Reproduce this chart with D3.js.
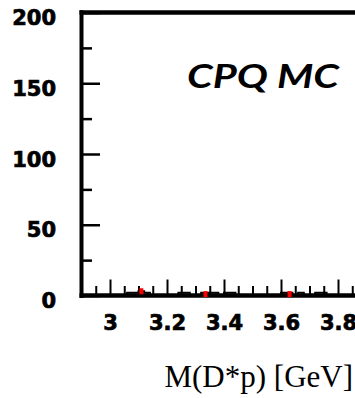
<!DOCTYPE html>
<html>
<head>
<meta charset="utf-8">
<script src="https://cdn.jsdelivr.net/npm/d3@7"></script>
<style>
  html, body { margin: 0; padding: 0; background: #fff; }
  svg { display: block; }
</style>
</head>
<body>
<script>
// ---- data ----
const binStart = 2.90;
const binWidth = 0.02;
const binCounts = [0,0,0,0,0,0,0,0,2,2,3,2,0,0,0,0,0,2,2,0,0,2,2,2,0,2,2,0,0,0,
                   0,0,0,0,0,2,2,0,2,0,0,2,2,0,0,0,0,0,0,0,0,0,0,0,0];
const pointX = [3.11, 3.335, 3.63];
const pointY = [3, 1, 1];
const yTickValues = [0, 50, 100, 150, 200];
const yMinorValues = [25, 75, 125, 175];
const xTickValues = [3.0, 3.2, 3.4, 3.6, 3.8];
const xTickLabels = ["3", "3.2", "3.4", "3.6", "3.8"];
const xMinorValues = [2.95, 3.05, 3.1, 3.15, 3.25, 3.3, 3.35, 3.45, 3.5, 3.55, 3.65, 3.7, 3.75, 3.85, 3.9, 3.95];
const xTitle = "M(D*p) [GeV]";
const label = "CPQ MC";

// ---- layout ----
const W = 355, H = 398;
const svg = d3.select("body").append("svg").attr("width", W).attr("height", H);
svg.append("rect").attr("width", W).attr("height", H).attr("fill", "#fff");

const x = d3.scaleLinear().domain([2.9, 4.0]).range([81.5, 395]);
const y = d3.scaleLinear().domain([0, 200]).range([295.5, 12.5]);

// histogram step path
const line = d3.line().curve(d3.curveStepAfter);
const pts = binCounts.map((c, i) => [x(binStart + i * binWidth), y(c)]);
pts.push([x(binStart + binCounts.length * binWidth), y(0)]);
svg.append("path").attr("d", line(pts)).attr("fill", "none")
  .attr("stroke", "#000").attr("stroke-width", 2);

// y axis ticks (inward)
const yMaj = d3.axisLeft(y).tickValues(yTickValues).tickSize(-18.5).tickPadding(25.5)
  .tickFormat(d3.format("d"));
const gy = svg.append("g").attr("transform", `translate(${x(2.9)},0)`).call(yMaj);
gy.select(".domain").remove();
gy.selectAll("line").attr("stroke", "#000").attr("stroke-width", 2.5);
gy.selectAll("text").attr("dy", "12px")
  .attr("font-family", "DejaVu Sans").attr("font-weight", "bold").attr("font-size", 21)
  .attr("fill", "#000").attr("stroke", "#000").attr("stroke-width", 0.7);

const yMin = d3.axisLeft(y).tickValues(yMinorValues).tickSize(-10.5).tickFormat("");
const gym = svg.append("g").attr("transform", `translate(${x(2.9)},0)`).call(yMin);
gym.select(".domain").remove();
gym.selectAll("line").attr("stroke", "#000").attr("stroke-width", 2.5);

// x axis ticks (inward)
const xMaj = d3.axisBottom(x).tickValues(xTickValues).tickSize(-16).tickPadding(23)
  .tickFormat((d, i) => xTickLabels[i]);
const gx = svg.append("g").attr("transform", `translate(0,${y(0)})`).call(xMaj);
gx.select(".domain").remove();
gx.selectAll("line").attr("stroke", "#000").attr("stroke-width", 2);
gx.selectAll("text").attr("dy", "11.5px")
  .attr("font-family", "DejaVu Sans").attr("font-weight", "bold").attr("font-size", 21)
  .attr("fill", "#000").attr("stroke", "#000").attr("stroke-width", 0.7);

const xMin = d3.axisBottom(x).tickValues(xMinorValues).tickSize(-9.5).tickFormat("");
const gxm = svg.append("g").attr("transform", `translate(0,${y(0)})`).call(xMin);
gxm.select(".domain").remove();
gxm.selectAll("line").attr("stroke", "#000").attr("stroke-width", 2);

// frame lines
svg.append("line").attr("x1", x(2.9)).attr("x2", x(2.9)).attr("y1", y(200) - 2.25).attr("y2", y(0) + 2.5)
  .attr("stroke", "#000").attr("stroke-width", 4);
svg.append("line").attr("x1", x(2.9) - 2).attr("x2", W).attr("y1", y(200)).attr("y2", y(200))
  .attr("stroke", "#000").attr("stroke-width", 4.5);
svg.append("line").attr("x1", x(2.9) - 2).attr("x2", W).attr("y1", y(0)).attr("y2", y(0))
  .attr("stroke", "#000").attr("stroke-width", 4.5);

// red data points
svg.selectAll("rect.pt").data(pointX).enter().append("rect").attr("class", "pt")
  .attr("x", d => x(d) - 2).attr("y", (d, i) => y(pointY[i]) - 3)
  .attr("width", 4).attr("height", 6).attr("fill", "#ff0000");

// label
svg.append("text").attr("x", 187).attr("y", 88)
  .attr("font-family", "Lato, 'DejaVu Sans', sans-serif").attr("font-style", "italic")
  .attr("font-weight", "bold").attr("font-size", 33)
  .attr("textLength", 152).attr("lengthAdjust", "spacingAndGlyphs")
  .attr("fill", "#000").text(label);

// x title
svg.append("text").attr("x", 353).attr("y", 387).attr("text-anchor", "end")
  .attr("font-family", "'Liberation Serif', 'Times New Roman', serif").attr("font-size", 31)
  .attr("fill", "#000").text(xTitle);
</script>
</body>
</html>
